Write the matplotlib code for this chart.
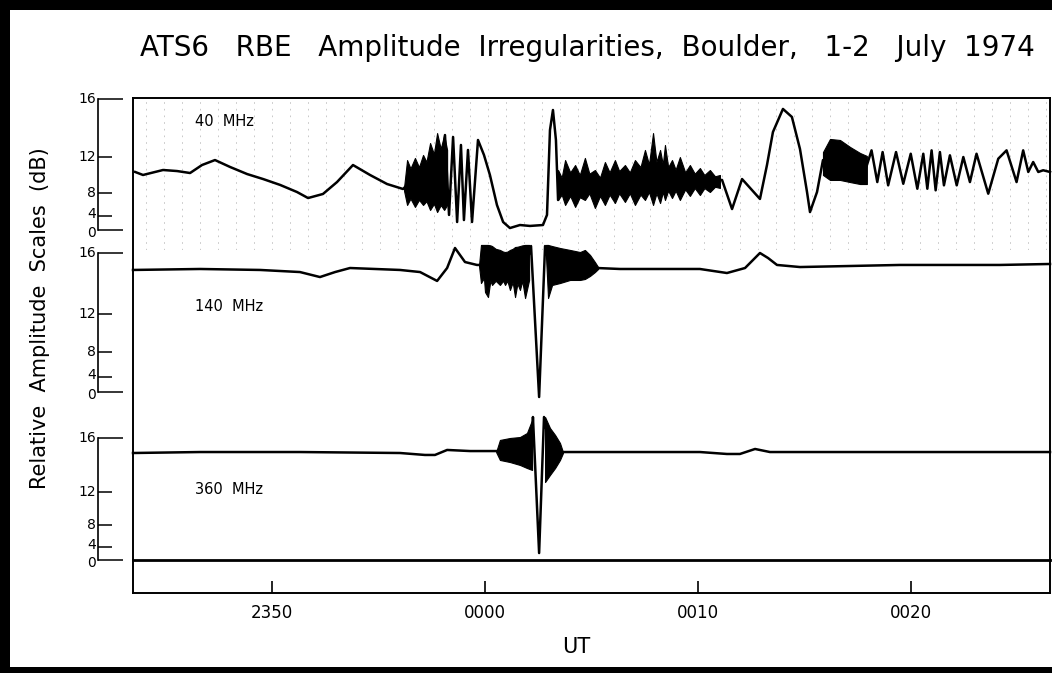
import matplotlib.pyplot as plt
import numpy as np
from matplotlib.patches import Rectangle
from matplotlib import transforms

# time axis: minutes relative to 0000 UT; amplitude: % of the 0-16 dB step (linear amplitude)
ut_ticks = [-10, 0, 10, 20]
ut_labels = ['2350', '0000', '0010', '0020']
db_labels = ['0', '4', '8', '12', '16']
db_pos = [0, 11.0, 28.5, 56.1, 100]   # dB marks on the linear amplitude scale

# 40 MHz
t40 = [-16.43, -16.06, -15.12, -14.46, -13.85, -13.29, -12.68, -11.97, -11.17, -10.42,
       -9.62, -8.83, -8.31, -7.61, -6.95, -6.20, -5.40, -4.60, -3.85, -3.66,
       -2.82, -2.11, -1.88, -1.69, -1.50, -1.31, -1.13, -0.99, -0.80, -0.61,
       -0.33, -0.05, 0.23, 0.56, 0.85, 1.17, 1.64, 2.11, 2.72, 2.91,
       3.05, 3.19, 3.33, 3.43, 3.62, 4.93, 5.26, 5.63, 7.28, 9.15,
       11.13, 11.60, 12.07, 12.91, 13.24, 13.52, 13.99, 14.41, 14.79, 15.12,
       15.26, 15.59, 15.87, 16.90, 17.89, 18.15, 18.42, 18.67, 18.93, 19.30,
       19.64, 19.99, 20.30, 20.58, 20.77, 20.97, 21.16, 21.36, 21.55, 21.83,
       22.15, 22.46, 22.77, 23.08, 23.63, 24.10, 24.49, 24.96, 25.27, 25.51,
       25.74, 25.98, 26.21, 26.53]
a40 = [44.3, 42.0, 45.8, 45.0, 43.5, 49.6, 53.4, 48.1, 42.7, 38.9,
       34.4, 29.0, 24.4, 27.5, 36.6, 49.6, 42.0, 35.1, 31.3, 34.4,
       36.6, 39.7, 72.5, 11.5, 71.0, 6.1, 64.9, 7.6, 61.1, 6.1,
       68.7, 57.3, 42.0, 19.1, 6.1, 1.5, 3.8, 3.1, 3.8, 11.5,
       76.3, 91.6, 68.7, 22.9, 38.2, 35.9, 22.9, 36.6, 36.6, 38.2,
       38.2, 16.0, 38.9, 23.7, 49.6, 74.8, 92.4, 86.3, 61.8, 29.0,
       13.7, 29.0, 53.4, 51.9, 47.3, 60.8, 36.6, 59.5, 34.1, 59.5,
       35.3, 58.2, 31.5, 58.2, 31.5, 60.8, 30.3, 59.5, 34.1, 57.0,
       34.1, 55.7, 36.6, 58.2, 27.7, 54.4, 60.8, 36.6, 60.8, 44.3,
       51.9, 44.3, 45.6, 44.3]
# fast fading bursts (upper / lower envelopes)
b40a_t = [-3.80, -3.66, -3.50, -3.29, -3.10, -2.91, -2.75, -2.58, -2.40, -2.25, -2.08, -1.92, -1.78]
b40a_hi = [32.8, 53.4, 47.0, 55.0, 48.0, 57.3, 52.0, 66.4, 58.0, 74.0, 62.0, 72.5, 61.1]
b40a_lo = [29.8, 19.1, 24.0, 17.6, 23.0, 19.1, 22.0, 15.3, 20.0, 13.7, 19.0, 15.3, 19.1]
b40b_t = [3.43, 3.60, 3.76, 4.00, 4.23, 4.45, 4.69, 4.90, 5.16, 5.40,
          5.63, 5.85, 6.10, 6.30, 6.57, 6.80, 7.04, 7.30, 7.51, 7.70,
          7.89, 8.05, 8.22, 8.35, 8.45, 8.60, 8.78, 8.95, 9.15, 9.40,
          9.62, 9.85, 10.09, 10.30, 10.56, 10.80, 11.03]
b40b_hi = [45.8, 40.0, 53.4, 44.0, 49.6, 42.0, 55.0, 43.0, 45.8, 40.0,
           51.9, 44.0, 53.4, 45.0, 49.6, 44.0, 53.4, 48.0, 61.1, 50.0,
           74.0, 52.0, 61.1, 50.0, 64.9, 48.0, 53.4, 46.0, 55.7, 44.0,
           49.6, 43.0, 47.3, 42.0, 45.8, 41.0, 42.0]
b40b_lo = [22.9, 27.0, 19.1, 26.0, 17.6, 25.0, 22.9, 28.0, 16.8, 26.0,
           19.1, 27.0, 20.6, 28.0, 21.4, 28.0, 19.1, 27.0, 22.9, 29.0,
           19.1, 28.0, 20.6, 29.0, 22.9, 30.0, 24.4, 30.0, 22.9, 31.0,
           26.0, 32.0, 26.7, 32.0, 29.0, 33.0, 32.1]
b40c_t = [15.87, 16.20, 16.67, 17.14, 17.61, 17.93]
b40c_hi = [59.5, 69.5, 68.7, 63.4, 58.8, 56.5]
b40c_lo = [42.0, 38.2, 38.2, 36.6, 35.1, 35.1]

# 140 MHz
t140 = [-16.53, -13.38, -10.56, -8.69, -7.75, -7.04, -6.34, -3.99, -3.05, -2.25,
        -1.78, -1.41, -0.94, -0.38, -0.23, 0.70, 1.88, 2.16, 2.54, 2.82,
        3.05, 4.23, 5.26, 6.34, 10.09, 11.36, 12.21, 12.91, 13.29, 13.71,
        14.79, 19.48, 24.18, 26.53]
a140 = [87.8, 88.5, 87.8, 86.3, 82.7, 86.3, 89.2, 87.8, 86.3, 79.9,
        89.2, 103.6, 93.5, 91.4, 91.4, 89.2, 87.8, 105.0, -3.6, 105.0,
        89.2, 89.2, 89.2, 88.5, 88.5, 85.6, 89.2, 100.0, 96.4, 91.4,
        89.9, 91.4, 91.4, 92.1]
b140a_t = [-0.28, -0.19, -0.05, 0.00, 0.14, 0.25, 0.33, 0.50, 0.70, 0.85,
           0.94, 1.05, 1.17, 1.30, 1.41, 1.52, 1.64, 1.75, 1.88, 2.07]
b140a_hi = [91.4, 105.8, 105.8, 105.8, 105.8, 105.5, 105.0, 103.0, 102.2, 101.0,
            100.7, 101.0, 102.2, 103.0, 104.3, 104.5, 105.0, 105.5, 105.8, 105.8]
b140a_lo = [90.6, 78.4, 82.0, 71.9, 68.3, 80.0, 77.0, 80.0, 77.0, 80.0,
            77.0, 80.0, 73.4, 79.0, 68.3, 78.0, 73.4, 80.0, 67.6, 80.6]
b140b_t = [2.86, 2.96, 3.15, 3.52, 3.99, 4.46, 4.69, 4.93, 5.16, 5.31]
b140b_hi = [105.8, 105.8, 105.0, 103.6, 102.2, 100.7, 102.2, 98.6, 93.5, 89.9]
b140b_lo = [98.6, 67.6, 77.0, 78.4, 80.6, 80.6, 81.3, 83.5, 86.3, 88.5]

# 360 MHz
t360 = [-16.53, -13.38, -8.69, -3.99, -2.82, -2.35, -1.78, -0.70, 0.56, 1.64,
        2.21, 2.25, 2.54, 2.77, 3.05, 3.62, 5.40, 10.09, 11.36, 11.97,
        12.68, 13.38, 19.48, 26.53]
a360 = [87.7, 88.5, 88.5, 87.7, 86.1, 86.1, 90.2, 89.3, 89.3, 88.5,
        98.4, 117.2, 5.7, 117.2, 90.2, 88.5, 88.5, 88.5, 86.9, 86.9,
        91.0, 88.5, 88.5, 88.5]
b360a_t = [0.52, 0.70, 1.17, 1.64, 1.97, 2.21]
b360a_hi = [88.5, 98.4, 100.0, 100.8, 104.1, 114.8]
b360a_lo = [88.5, 82.0, 80.3, 77.9, 75.4, 73.8]
b360b_t = [2.82, 3.05, 3.29, 3.52, 3.66]
b360b_hi = [117.2, 108.2, 102.5, 95.9, 88.5]
b360b_lo = [63.9, 69.7, 75.4, 82.0, 87.7]

XMIN, XMAX = -16.53, 26.53
W, H = 1052, 673

fig = plt.figure(figsize=(W / 100, H / 100), dpi=100, facecolor='black')
fig.patches.append(Rectangle((10 / W, 6 / H), 1 - 10 / W, 1 - 16 / H,
                             transform=fig.transFigure, facecolor='white',
                             edgecolor='none', zorder=-10))


def px_axes(x0, y0, x1, y1):
    # axes placed by pixel box (top-left origin)
    return fig.add_axes([x0 / W, 1 - y1 / H, (x1 - x0) / W, (y1 - y0) / H])


# faint timing marks behind the 40 MHz record
mk = px_axes(133, 99, 1050, 250)
mk.set_xlim(XMIN, XMAX)
mk.patch.set_alpha(0)
for s in mk.spines.values():
    s.set_visible(False)
mk.set_xticks(np.arange(-10 - 7 * 0.845, XMAX, 0.845), minor=True)
mk.set_xticks([])
mk.set_yticks([])
mk.tick_params(which='both', length=0)
mk.grid(which='minor', axis='x', color='0.75', lw=0.6, ls=(0, (2, 6)))

# outer frame
fr = px_axes(133, 98, 1050, 560)
fr.patch.set_alpha(0)
fr.set_xticks([])
fr.set_yticks([])
for s in fr.spines.values():
    s.set_linewidth(1.4)
fr.spines['bottom'].set_linewidth(2.0)

# time axis strip
ta = px_axes(133, 560, 1050, 593)
ta.patch.set_alpha(0)
ta.set_xlim(XMIN, XMAX)
ta.spines['top'].set_visible(False)
for s in ['left', 'right', 'bottom']:
    ta.spines[s].set_linewidth(1.4)
ta.set_yticks([])
ta.set_xticks(ut_ticks, labels=ut_labels, fontsize=12)
ta.tick_params(axis='x', direction='in', length=9, width=1.2, pad=8)

panels = [
    (99, 230, 122, '40  MHz', t40, a40,
     [(b40a_t, b40a_lo, b40a_hi), (b40b_t, b40b_lo, b40b_hi), (b40c_t, b40c_lo, b40c_hi)]),
    (253, 392, 307, '140  MHz', t140, a140,
     [(b140a_t, b140a_lo, b140a_hi), (b140b_t, b140b_lo, b140b_hi)]),
    (438, 560, 490, '360  MHz', t360, a360,
     [(b360a_t, b360a_lo, b360a_hi), (b360b_t, b360b_lo, b360b_hi)]),
]

for top, zero, ylab, name, t, a, bursts in panels:
    ax = px_axes(133, top, 1050, zero)
    ax.set_xlim(XMIN, XMAX)
    ax.set_ylim(0, 100)
    ax.patch.set_alpha(0)
    for s in ['top', 'right', 'bottom']:
        ax.spines[s].set_visible(False)
    ax.spines['left'].set_position(('outward', 25))
    ax.spines['left'].set_bounds(0, 100)
    ax.spines['left'].set_linewidth(1.2)
    ax.set_xticks([])
    ax.set_yticks(db_pos[1:4])
    ax.set_yticks([db_pos[0], db_pos[4]], minor=True)
    ax.tick_params(axis='y', which='major', direction='in', length=10, width=1.1, labelleft=False)
    ax.tick_params(axis='y', which='minor', direction='in', length=18, width=1.1, labelleft=False)
    # scale numbers, nudged apart where 0 and 4 crowd together
    lab_tr = transforms.blended_transform_factory(fig.transFigure, ax.transData)
    for lab, pos, dy in zip(db_labels, db_pos, [-3, 2, 0, 0, 0]):
        tr = transforms.offset_copy(lab_tr, fig=fig, y=dy, units='dots')
        ax.text(96 / W, pos, lab, transform=tr, ha='right', va='center', fontsize=10)
    ax.plot(t, a, color='black', lw=1.8, clip_on=False, solid_joinstyle='round')
    for bt, lo, hi in bursts:
        ax.fill_between(bt, lo, hi, color='black', lw=0.8, clip_on=False)
    fig.text(195 / W, 1 - ylab / H, name, fontsize=10.5, va='center', ha='left')

fig.text(40 / W, 1 - 318 / H, 'Relative  Amplitude  Scales  (dB)', rotation=90,
         ha='center', va='center', fontsize=15)
fig.text(576 / W, 1 - 647 / H, 'UT', ha='center', va='center', fontsize=15)
fig.text(587 / W, 1 - 48 / H,
         'ATS6   RBE   Amplitude  Irregularities,  Boulder,   1-2   July  1974',
         ha='center', va='center', fontsize=20)

fig.savefig('out.png', dpi=100, facecolor=fig.get_facecolor())
